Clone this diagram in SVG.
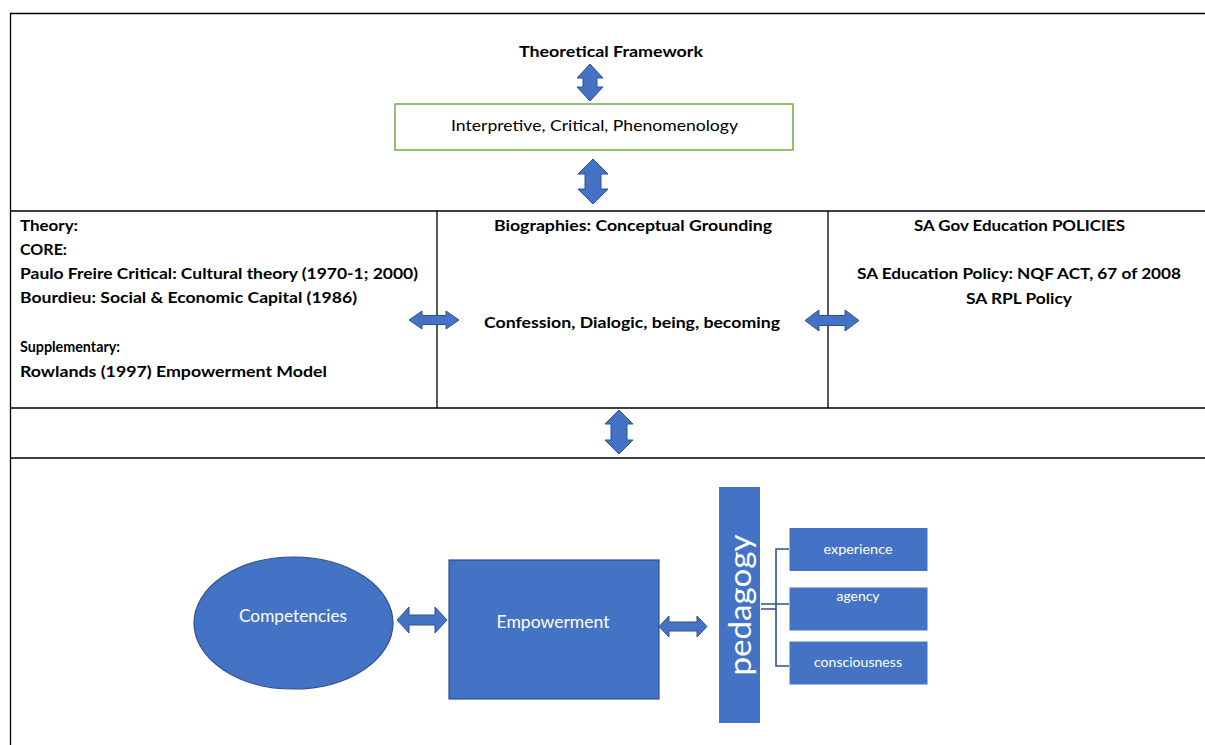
<svg xmlns="http://www.w3.org/2000/svg" width="1205" height="745" viewBox="0 0 1205 745">
<style>
.ln{stroke:#000;stroke-width:1.3;fill:none}
.b{font-family:Lato,"Liberation Sans",sans-serif;font-weight:bold;font-size:15.5px;fill:#000}
.r{font-family:Lato,"Liberation Sans",sans-serif;font-size:16px;fill:#000}
.w{font-family:Lato,"Liberation Sans",sans-serif;fill:#fff}
.arr{fill:#4472C4;stroke:#2F528F;stroke-width:1}
.blue{fill:#4472C4;stroke:#2F528F;stroke-width:1.2}
.box{fill:#4472C4;stroke:#fff;stroke-width:1}
.br{stroke:#2F528F;stroke-width:1.6;fill:none}
</style>
<rect width="1205" height="745" fill="#fff"/>
<g id="table">
<path class="ln" d="M10.5,745 V13.5 H1205 M10,211 H1205 M10,408 H1205 M10,458 H1205 M437,211 V408 M828,211 V408"/>
</g>
<g id="title">
<text class="b" x="611" y="57" text-anchor="middle" textLength="184" lengthAdjust="spacingAndGlyphs">Theoretical Framework</text>
</g>
<g id="paradigm">
<rect x="395" y="104" width="398" height="46" fill="#fff" stroke="#70AD47" stroke-width="1.5"/>
<text class="r" x="594.5" y="131" text-anchor="middle" textLength="287" lengthAdjust="spacingAndGlyphs">Interpretive, Critical, Phenomenology</text>
</g>
<g id="theory">
<text class="b" x="20" y="231" textLength="58" lengthAdjust="spacingAndGlyphs">Theory:</text>
<text class="b" x="20" y="255" textLength="47" lengthAdjust="spacingAndGlyphs">CORE:</text>
<text class="b" x="20" y="279" textLength="398" lengthAdjust="spacingAndGlyphs">Paulo Freire Critical: Cultural theory (1970-1; 2000)</text>
<text class="b" x="20" y="303" textLength="337" lengthAdjust="spacingAndGlyphs">Bourdieu: Social &amp; Economic Capital (1986)</text>
<text class="b" x="20" y="352" textLength="100" lengthAdjust="spacingAndGlyphs">Supplementary:</text>
<text class="b" x="20" y="377" textLength="307" lengthAdjust="spacingAndGlyphs">Rowlands (1997) Empowerment Model</text>
</g>
<g id="biographies">
<text class="b" x="633" y="231" text-anchor="middle" textLength="278" lengthAdjust="spacingAndGlyphs">Biographies: Conceptual Grounding</text>
<text class="b" x="632" y="328" text-anchor="middle" textLength="296" lengthAdjust="spacingAndGlyphs">Confession, Dialogic, being, becoming</text>
</g>
<g id="policies">
<text class="b" x="1019.5" y="231" text-anchor="middle" textLength="211" lengthAdjust="spacingAndGlyphs">SA Gov Education POLICIES</text>
<text class="b" x="1019" y="279" text-anchor="middle" textLength="324" lengthAdjust="spacingAndGlyphs">SA Education Policy: NQF ACT, 67 of 2008</text>
<text class="b" x="1019" y="304" text-anchor="middle" textLength="106" lengthAdjust="spacingAndGlyphs">SA RPL Policy</text>
</g>
<g id="competencies">
<ellipse class="blue" cx="293.5" cy="623" rx="99.5" ry="66"/>
<text class="w" x="293" y="622" text-anchor="middle" font-size="16.5" textLength="108" lengthAdjust="spacingAndGlyphs">Competencies</text>
</g>
<g id="empowerment">
<rect class="blue" x="449" y="560" width="210" height="139"/>
<text class="w" x="553" y="628" text-anchor="middle" font-size="16.5" textLength="113" lengthAdjust="spacingAndGlyphs">Empowerment</text>
</g>
<g id="pedagogy">
<rect x="719" y="487" width="41" height="236" fill="#4472C4"/>
<text class="w" transform="translate(751,605) rotate(-90)" x="0" y="0" text-anchor="middle" font-size="30" textLength="141" lengthAdjust="spacingAndGlyphs">pedagogy</text>
</g>
<g id="experience">
<rect class="box" x="789" y="527.5" width="139" height="44"/>
<text class="w" x="858" y="554" text-anchor="middle" font-size="13.5" textLength="69" lengthAdjust="spacingAndGlyphs">experience</text>
</g>
<g id="agency">
<rect class="box" x="789" y="587" width="139" height="44"/>
<text class="w" x="858" y="601" text-anchor="middle" font-size="13.5" textLength="43" lengthAdjust="spacingAndGlyphs">agency</text>
</g>
<g id="consciousness">
<rect class="box" x="789" y="641" width="139" height="44"/>
<text class="w" x="858" y="667" text-anchor="middle" font-size="13.5" textLength="88" lengthAdjust="spacingAndGlyphs">consciousness</text>
</g>
<g id="connectors">
<path class="arr" d="M590,64 L603,78 L597,78 L597,87 L603,87 L590,101 L577,87 L583,87 L583,78 L577,78 Z"/>
<path class="arr" d="M593,159 L608,174 L601,174 L601,189 L608,189 L593,204 L578,189 L585,189 L585,174 L578,174 Z"/>
<path class="arr" d="M409,320 L422,311 L422,315.5 L446,315.5 L446,311 L459,320 L446,329 L446,324.5 L422,324.5 L422,329 Z"/>
<path class="arr" d="M805,320.5 L819,310 L819,315.5 L845,315.5 L845,310 L859,320.5 L845,331 L845,325.5 L819,325.5 L819,331 Z"/>
<path class="arr" d="M619,410 L633,424 L627,424 L627,440 L633,440 L619,454 L605,440 L611,440 L611,424 L605,424 Z"/>
<path class="arr" d="M397,620 L409,607 L409,615 L435,615 L435,607 L447,620 L435,633 L435,625 L409,625 L409,633 Z"/>
<path class="arr" d="M659,626.5 L669,616 L669,622 L697,622 L697,616 L707,626.5 L697,637 L697,631 L669,631 L669,637 Z"/>
<path class="br" d="M789,549 H776 V666 H789 M761,604 H789 M761,609 H776"/>
</g>
</svg>
